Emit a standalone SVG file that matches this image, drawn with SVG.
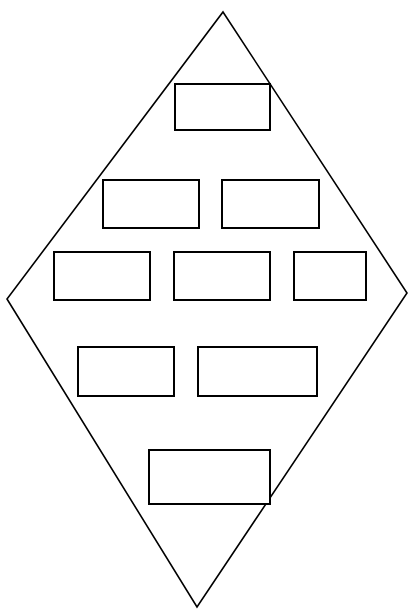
<svg xmlns="http://www.w3.org/2000/svg" width="408" height="610" viewBox="0 0 408 610">
<style>
.box{fill:#fff;stroke:#000;stroke-width:2}
.dia{fill:none;stroke:#000;stroke-width:1.6;stroke-linejoin:miter}
</style>
<rect width="408" height="610" fill="#fff"/>
<g id="diamond"><polygon class="dia" points="223,12 407,293 197,607 7,299"/></g>
<g id="n1"><rect class="box" x="175" y="84" width="95" height="46"/></g>
<g id="n2"><rect class="box" x="103" y="180" width="96" height="48"/></g>
<g id="n3"><rect class="box" x="222" y="180" width="97" height="48"/></g>
<g id="n4"><rect class="box" x="54" y="252" width="96" height="48"/></g>
<g id="n5"><rect class="box" x="174" y="252" width="96" height="48"/></g>
<g id="n6"><rect class="box" x="294" y="252" width="72" height="48"/></g>
<g id="n7"><rect class="box" x="78" y="347" width="96" height="49"/></g>
<g id="n8"><rect class="box" x="198" y="347" width="119" height="49"/></g>
<g id="n9"><rect class="box" x="149" y="450" width="121" height="54"/></g>
<g id="connectors"></g>
</svg>
